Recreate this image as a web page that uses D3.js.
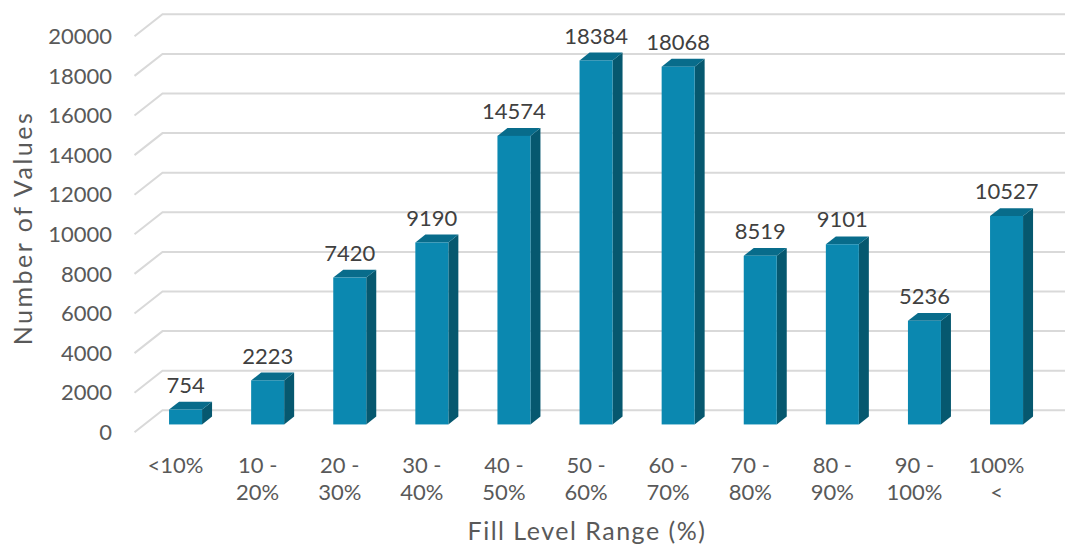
<!DOCTYPE html>
<html>
<head>
<meta charset="utf-8">
<script src="https://cdn.jsdelivr.net/npm/d3@7"></script>
<style>
  body { margin: 0; background: #fff; }
  svg { display: block; font-family: "Lato", "Open Sans", sans-serif; }
  .tick-label { fill: #595959; font-size: 22px; }
  .value-label { fill: #404040; font-size: 22px; }
  .axisText { fill: #595959; font-size: 25px; }
</style>
</head>
<body>
<div id="chart"></div>
<script>
// Data
var categories = ["<10%", "10 - 20%", "20 - 30%", "30 - 40%", "40 - 50%", "50 - 60%",
                  "60 - 70%", "70 - 80%", "80 - 90%", "90 - 100%", "100% <"];
var catLines = [["<10%"], ["10 -", "20%"], ["20 -", "30%"], ["30 -", "40%"], ["40 -", "50%"],
                ["50 -", "60%"], ["60 -", "70%"], ["70 -", "80%"], ["80 -", "90%"],
                ["90 -", "100%"], ["100%", "<"]];
var counts = [754, 2223, 7420, 9190, 14574, 18384, 18068, 8519, 9101, 5236, 10527];
var yTicks = [0, 2000, 4000, 6000, 8000, 10000, 12000, 14000, 16000, 18000, 20000];

var svgWidth = 1065;
var svgHeight = 547;

// 3D floor: front edge and depth offset of the back wall
var floorLeft = 134.5, floorRight = 1037.6, floorFrontY = 432.3;
var depthX = 28, depthY = -22;
// bar sits between these depth fractions
var barNear = 10 / 28, barFar = 20 / 28;
var barWidth = 33;

var svg = d3.select("#chart")
  .append("svg")
  .attr("width", svgWidth)
  .attr("height", svgHeight);

var xScale = d3.scaleBand()
  .domain(categories)
  .range([floorLeft, floorRight]);

var yScale = d3.scaleLinear()
  .domain([0, 20000])
  .range([0, 396]);

// Gridlines (front-left diagonal + back wall)
var grid = svg.append("g");
yTicks.forEach(function(t) {
  var yf = floorFrontY - yScale(t);
  grid.append("polyline")
    .attr("points", [[floorLeft, yf], [floorLeft + depthX, yf + depthY],
                     [floorRight + depthX, yf + depthY]].map(function(p) { return p.join(","); }).join(" "))
    .attr("fill", "none")
    .attr("stroke", "#d9d9d9")
    .attr("stroke-width", 2);
});

// Y tick labels
svg.append("g").selectAll("text")
  .data(yTicks)
  .enter().append("text")
    .attr("class", "tick-label")
    .attr("x", 112)
    .attr("y", function(d) { return floorFrontY - yScale(d); })
    .attr("dy", "0.35em")
    .attr("text-anchor", "end")
    .text(function(d) { return d; });

// Bars
var bars = svg.append("g");
categories.forEach(function(c, i) {
  var bandMid = xScale(c) + xScale.bandwidth() / 2;
  var x0 = bandMid - barWidth / 2 + depthX * barNear;
  var x1 = x0 + barWidth;
  var yb = floorFrontY + depthY * barNear;
  var yt = yb - yScale(counts[i]);
  var ddx = depthX * (barFar - barNear), ddy = depthY * (barFar - barNear);

  // side
  bars.append("polygon")
    .attr("points", [[x1, yt], [x1 + ddx, yt + ddy], [x1 + ddx, yb + ddy], [x1, yb]].join(" "))
    .attr("fill", "#06586f");
  // top
  bars.append("polygon")
    .attr("points", [[x0, yt], [x0 + ddx, yt + ddy], [x1 + ddx, yt + ddy], [x1, yt]].join(" "))
    .attr("fill", "#086c8b");
  // front
  bars.append("rect")
    .attr("x", x0)
    .attr("y", yt)
    .attr("width", barWidth)
    .attr("height", yb - yt)
    .attr("fill", "#0b88b0");

  // value label
  bars.append("text")
    .attr("class", "value-label")
    .attr("x", x0 + barWidth / 2)
    .attr("y", yt + ddy - 9)
    .attr("text-anchor", "middle")
    .text(counts[i]);
});

// Category labels
var catG = svg.append("g");
categories.forEach(function(c, i) {
  var t = catG.append("text")
    .attr("class", "tick-label")
    .attr("text-anchor", "middle")
    .attr("x", xScale(c) + xScale.bandwidth() / 2)
    .attr("y", 465);
  catLines[i].forEach(function(line, j) {
    t.append("tspan")
      .attr("x", xScale(c) + xScale.bandwidth() / 2)
      .attr("dy", j === 0 ? "0.35em" : 27)
      .text(line);
  });
});

// Axis titles
svg.append("text")
  .attr("class", "axisText")
  .attr("x", 587)
  .attr("y", 531)
  .attr("dy", "0.35em")
  .attr("text-anchor", "middle")
  .style("letter-spacing", "1.5px")
  .text("Fill Level Range (%)");

svg.append("text")
  .attr("class", "axisText")
  .attr("transform", "translate(23,228) rotate(-90)")
  .attr("dy", "0.35em")
  .attr("text-anchor", "middle")
  .style("letter-spacing", "2.5px")
  .text("Number of Values");
</script>
</body>
</html>
